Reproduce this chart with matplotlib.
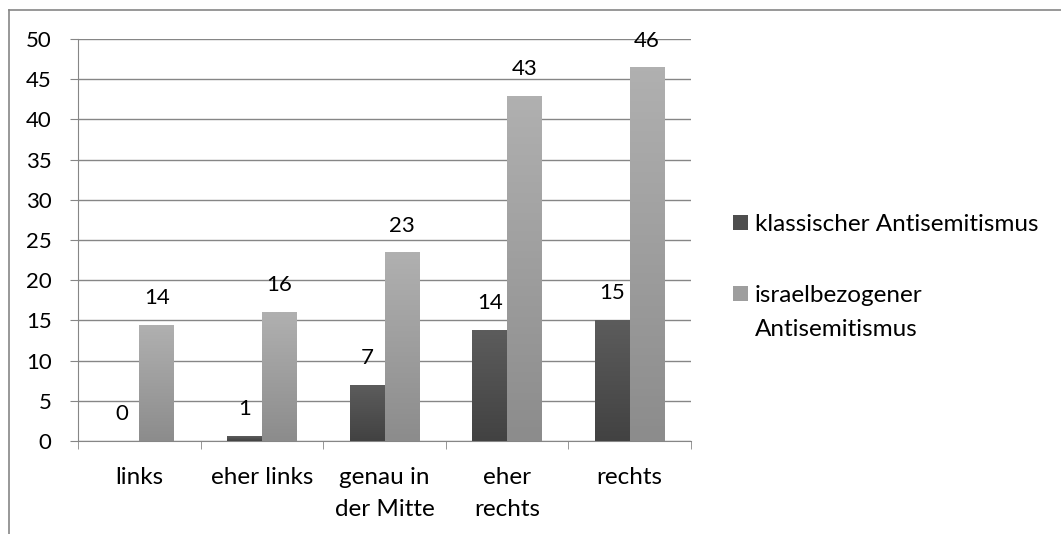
import numpy as np
import matplotlib.pyplot as plt
from matplotlib.colors import LinearSegmentedColormap
from matplotlib.patches import Patch

# data
categories = ['links', 'eher links', 'genau in\nder Mitte', 'eher\nrechts', 'rechts']
klassisch = [0, 0.6, 6.9, 13.8, 15.0]
israel = [14.4, 16.0, 23.4, 42.9, 46.4]
labels_k = ['0', '1', '7', '14', '15']
labels_i = ['14', '16', '23', '43', '46']
series_names = ['klassischer Antisemitismus', 'israelbezogener\nAntisemitismus']

plt.rcParams['font.family'] = ['Lato', 'DejaVu Sans']
grid_col = '#868686'
txt_size = 17.5
num_size = 16

fig = plt.figure(figsize=(10.61, 5.34), dpi=100)
ax = fig.add_axes([78/1061, 1 - 441/534, 613/1061, 402/534])

# outer chart border (only top and left visible in the picture)
fig.add_artist(plt.Line2D([9/1061, 9/1061], [0, 1 - 10/534], transform=fig.transFigure, color=grid_col, lw=1.2))
fig.add_artist(plt.Line2D([9/1061, 1], [1 - 10/534, 1 - 10/534], transform=fig.transFigure, color=grid_col, lw=1.2))

x = np.arange(len(categories))
w = 0.285
cmap_k = LinearSegmentedColormap.from_list('k', ['#424242', '#5c5c5c'])
cmap_i = LinearSegmentedColormap.from_list('i', ['#8c8c8c', '#b0b0b0'])
grad = np.linspace(0, 1, 100).reshape(-1, 1)

bars_k = ax.bar(x - w/2, klassisch, w, color='none', zorder=3)
bars_i = ax.bar(x + w/2, israel, w, color='none', zorder=3)
for bars, cm in [(bars_k, cmap_k), (bars_i, cmap_i)]:
    for b in bars:
        if b.get_height() <= 0:
            continue
        x0 = b.get_x()
        ax.imshow(grad, cmap=cm, origin='lower', aspect='auto', zorder=3,
                  extent=(x0, x0 + b.get_width(), 0, b.get_height()))

for i in range(len(categories)):
    ax.text(x[i] - w/2, klassisch[i] + 3.4, labels_k[i], ha='center', va='center', fontsize=num_size)
    ax.text(x[i] + w/2, israel[i] + 3.4, labels_i[i], ha='center', va='center', fontsize=num_size)

ax.set_xlim(-0.5, len(categories) - 0.5)
ax.set_ylim(0, 50)
ax.set_yticks(range(0, 51, 5))
ax.yaxis.grid(True, color=grid_col, lw=1)
ax.set_axisbelow(True)
ax.set_xticks(x)
ax.set_xticklabels(categories, fontsize=txt_size, linespacing=1.6)
ax.set_xticks(np.arange(-0.5, len(categories), 1), minor=True)
ax.tick_params(axis='x', which='major', length=0, pad=19)
ax.tick_params(axis='x', which='minor', length=6, color=grid_col)
ax.tick_params(axis='y', length=6, color=grid_col, labelsize=num_size, pad=13)
for s in ['top', 'right']:
    ax.spines[s].set_visible(False)
for s in ['left', 'bottom']:
    ax.spines[s].set_color(grid_col)

# legend: handle next to the first line of each label, second line added below
first_lines = [s.split('\n')[0] for s in series_names]
handles = [Patch(facecolor='#4e4e4e'), Patch(facecolor='#9e9e9e')]
leg = fig.legend(handles, first_lines, loc='upper left', bbox_to_anchor=(721/1061, 1 - 202/534),
                 frameon=False, fontsize=txt_size, handlelength=0.6, handleheight=0.6,
                 handletextpad=0.3, labelspacing=2.05, borderpad=0)
fig.canvas.draw()
bb = leg.get_texts()[1].get_window_extent()
fig.text(bb.x0 / 1061, (bb.y1 - 34) / 534, series_names[1].split('\n')[1],
         ha='left', va='top', fontsize=txt_size)

fig.savefig('out.png', dpi=100)
